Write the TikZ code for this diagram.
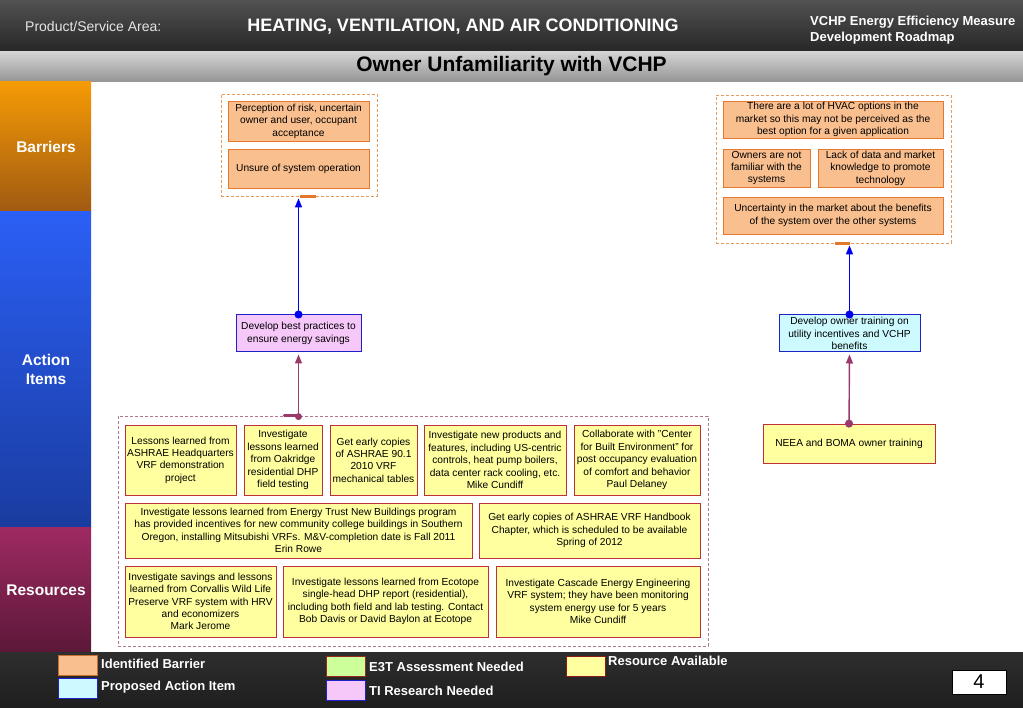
\documentclass[tikz,border=0pt]{standalone}
\usepackage{fontspec}
\setmainfont{Liberation Sans}
\usetikzlibrary{arrows.meta}
\definecolor{barfill}{HTML}{F9BF8F}
\definecolor{barline}{HTML}{E5782F}
\definecolor{bardash}{HTML}{E89A5A}
\definecolor{resfill}{HTML}{FFFF9F}
\definecolor{resline}{HTML}{C0303A}
\definecolor{resdash}{HTML}{B07894}
\definecolor{pinkfill}{HTML}{F6C8FA}
\definecolor{cyanfill}{HTML}{CCFAFF}
\definecolor{actline}{HTML}{2020C8}
\definecolor{purp}{HTML}{9A3A6A}
\definecolor{grnfill}{HTML}{CCFF99}
\definecolor{arrblue}{HTML}{0000F0}
\begin{document}
\begin{tikzpicture}[x=1pt,y=-1pt,
  every node/.style={inner sep=0pt},
  box/.style={draw, line width=0.8pt, align=center, font=\fontsize{10.2}{12.4}\selectfont},
  bar/.style={box, fill=barfill, draw=barline},
  res/.style={box, fill=resfill, draw=resline},
  act/.style={box, draw=actline, line width=1pt},
  grp/.style={draw, dash pattern=on 3pt off 2pt, line width=0.8pt},
  side/.style={text=white, font=\fontsize{15.5}{19}\selectfont\bfseries, align=center},
  leg/.style={anchor=west, text=white, font=\fontsize{13}{15}\selectfont\bfseries},
  sw/.style={minimum width=39pt, minimum height=20pt, line width=1pt},
  bluearr/.style={arrblue, line width=1.4pt, {Circle[length=8pt]}-{Triangle[length=9pt,width=7pt]}},
  purarr/.style={purp, line width=1.4pt, -{Triangle[length=9pt,width=7pt]}},
  tab/.style={line width=3.5pt}
]
\useasboundingbox (0,0) rectangle (1023,708);
% header
\shade[top color=black!68, bottom color=black!85] (0,0) rectangle (1023,52);
\shade[top color=black!17, bottom color=black!42] (0,52) rectangle (1023,82);
\node[anchor=west, text=black!10, font=\fontsize{14}{16}\selectfont] (psa) at (25,27) {Product/Service Area:};
\node[text=white, font=\fontsize{18}{20}\selectfont\bfseries] (hvac) at (463,27) {HEATING, VENTILATION, AND AIR CONDITIONING};
\node[anchor=west, text=white, align=left, font=\fontsize{13}{15.5}\selectfont\bfseries] (vchp) at (810,30) {VCHP Energy Efficiency Measure\\Development Roadmap};
\node[font=\fontsize{21}{24}\selectfont\bfseries] (title) at (511.5,66) {Owner Unfamiliarity with VCHP};
% sidebar
\shade[top color={rgb,255:red,245;green,155;blue,5}, bottom color={rgb,255:red,160;green,90;blue,18}] (0,82) rectangle (91,212);
\shade[top color={rgb,255:red,43;green,95;blue,245}, bottom color={rgb,255:red,26;green,60;blue,160}] (0,212) rectangle (91,527);
\shade[top color={rgb,255:red,158;green,42;blue,98}, bottom color={rgb,255:red,92;green,24;blue,56}] (0,527) rectangle (91,652);
\node[side] (sbar) at (46,147) {Barriers};
\node[side] (sact) at (46,369.5) {Action\\Items};
\node[side] (sres) at (46,590) {Resources};
% footer
\shade[top color=black!82, bottom color=black!88] (0,652) rectangle (1023,708);
\node[sw, draw={rgb,255:red,200;green,110;blue,50}, fill=barfill] (swbar) at (77.5,665.5) {};
\node[leg] (lbar) at (101,664) {Identified Barrier};
\node[sw, draw=actline, fill=cyanfill] (swact) at (77.5,688.5) {};
\node[leg] (lact) at (101,687) {Proposed Action Item};
\node[sw, draw={rgb,255:red,150;green,40;blue,30}, fill=grnfill] (swe3t) at (345.5,666.5) {};
\node[leg] (le3t) at (369,667) {E3T Assessment Needed};
\node[sw, draw=actline, fill=pinkfill] (swti) at (345.5,690.5) {};
\node[leg] (lti) at (369,691) {TI Research Needed};
\node[sw, draw={rgb,255:red,140;green,26;blue,26}, fill=resfill] (swres) at (585.5,666) {};
\node[leg] (lres) at (608,661) {Resource Available};
\node[draw=black, fill=white, minimum width=54pt, minimum height=24pt, font=\fontsize{20}{22}\selectfont] (pg) at (979,682) {4};
% barrier groups
\node[grp, draw=bardash, minimum width=156pt, minimum height=102pt] (bg1) at (299,145) {};
\node[bar, minimum width=141pt, minimum height=40pt] (b1) at (298.5,121) {Perception of risk, uncertain\\owner and user, occupant\\acceptance};
\node[bar, minimum width=141pt, minimum height=39pt] (b2) at (298.5,168.5) {Unsure of system operation};
\node[grp, draw=bardash, minimum width=235pt, minimum height=148pt] (bg2) at (833.5,169) {};
\node[bar, minimum width=220pt, minimum height=37pt] (bA) at (833,119.5) {There are a lot of HVAC options in the\\market so this may not be perceived as the\\best option for a given application};
\node[bar, minimum width=87pt, minimum height=38pt] (bB) at (766.5,168) {Owners are not\\familiar with the\\systems};
\node[bar, minimum width=125pt, minimum height=38pt] (bC) at (880.5,168) {Lack of data and market\\knowledge to promote\\technology};
\node[bar, minimum width=220pt, minimum height=37pt] (bD) at (833,215.5) {Uncertainty in the market about the benefits\\of the system over the other systems};
% action items
\node[act, fill=pinkfill, minimum width=125pt, minimum height=37pt] (a1) at (298.5,333.5) {Develop best practices to\\ensure energy savings};
\node[act, fill=cyanfill, minimum width=141pt, minimum height=37pt] (a2) at (849.5,333.5) {Develop owner training on\\utility incentives and VCHP\\benefits};
% resources
\node[grp, draw=resdash, minimum width=590pt, minimum height=230pt] (rg) at (413,531) {};
\node[res, minimum width=111pt, minimum height=70pt] (r1) at (180.5,460) {Lessons learned from\\ASHRAE Headquarters\\VRF demonstration\\project};
\node[res, minimum width=78pt, minimum height=70pt] (r2) at (283,460) {Investigate\\lessons learned\\from Oakridge\\residential DHP\\field testing};
\node[res, minimum width=87pt, minimum height=70pt] (r3) at (373.5,460) {Get early copies\\of ASHRAE 90.1\\2010 VRF\\mechanical tables};
\node[res, minimum width=142pt, minimum height=70pt] (r4) at (495,460) {Investigate new products and\\features, including US-centric\\controls, heat pump boilers,\\data center rack cooling, etc.\\Mike Cundiff};
\node[res, minimum width=126pt, minimum height=70pt] (r5) at (637,460) {Collaborate with "Center\\for Built Environment" for\\post occupancy evaluation\\of comfort and behavior\\Paul Delaney};
\node[res, minimum width=347pt, minimum height=55pt] (r6) at (298.5,530.5) {Investigate lessons learned from Energy Trust New Buildings program\\has provided incentives for new community college buildings in Southern\\Oregon, installing Mitsubishi VRFs. M\&V-completion date is Fall 2011\\Erin Rowe};
\node[res, minimum width=221pt, minimum height=55pt] (r7) at (589.5,530.5) {Get early copies of ASHRAE VRF Handbook\\Chapter, which is scheduled to be available\\Spring of 2012};
\node[res, minimum width=151pt, minimum height=71pt] (r8) at (200.5,601.5) {Investigate savings and lessons\\learned from Corvallis Wild Life\\Preserve VRF system with HRV\\and economizers\\Mark Jerome};
\node[res, minimum width=205pt, minimum height=71pt] (r9) at (385.5,601.5) {Investigate lessons learned from Ecotope\\single-head DHP report (residential),\\including both field and lab testing. Contact\\Bob Davis or David Baylon at Ecotope};
\node[res, minimum width=204pt, minimum height=71pt] (r10) at (598,601.5) {Investigate Cascade Energy Engineering\\VRF system; they have been monitoring\\system energy use for 5 years\\Mike Cundiff};
\node[res, minimum width=172pt, minimum height=39pt] (neea) at (849,443.5) {NEEA and BOMA owner training};
% connectors
\draw[tab, barline] ([xshift=1pt]a1.north |- bg1.south) -- ++(16,0);
\draw[bluearr] ([yshift=-4pt]a1.north) -- ([yshift=-2pt]a1.north |- bg1.south);
\draw[tab, barline] ([xshift=-15pt]a2.north |- bg2.south) -- ++(15,0);
\draw[bluearr] ([yshift=-4pt]a2.north) -- ([yshift=-2pt]a2.north |- bg2.south);
\draw[tab, purp, line cap=round] ([xshift=-14pt]a1.south |- rg.north) -- (a1.south |- rg.north);
\fill[purp] ([yshift=-1pt]a1.south |- rg.north) circle (3.5pt);
\draw[purarr] (a1.south |- rg.north) -- ([yshift=-2pt]a1.south);
\draw[purarr, {Circle[length=8pt]}-{Triangle[length=9pt,width=7pt]}] ([yshift=-4pt]neea.north) -- ([yshift=-2pt]a2.south);
\end{tikzpicture}
\end{document}
